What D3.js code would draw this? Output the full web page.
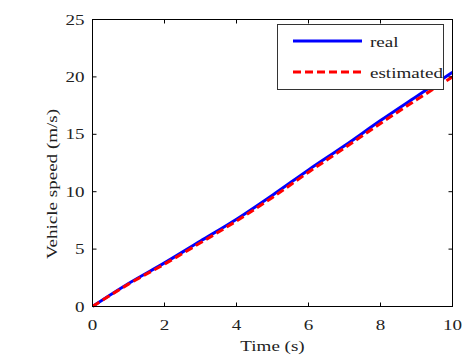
<!DOCTYPE html>
<html>
<head>
<meta charset="utf-8">
<script src="https://cdn.jsdelivr.net/npm/d3@7"></script>
<style>
body { margin: 0; background: #fff; }
</style>
</head>
<body>
<script>
// data
var time = [0, 1, 2, 3, 4, 5, 6, 7, 8, 9, 10];
var realSpeed = [0, 2.0, 3.8, 5.7, 7.6, 9.7, 11.9, 14.0, 16.2, 18.3, 20.4];
var estSpeed = [0, 1.95, 3.7, 5.55, 7.45, 9.5, 11.7, 13.8, 15.95, 18.0, 20.0];
var xTicks = [0, 2, 4, 6, 8, 10];
var yTicks = [0, 5, 10, 15, 20, 25];

var width = 465, height = 358;
var m = {left: 92.5, right: 12.5, top: 19.5, bottom: 51.5};
var FONT = "'Liberation Serif', 'Times New Roman', 'DejaVu Serif', serif";

var svg = d3.select("body").append("svg")
    .attr("width", width)
    .attr("height", height);

// the picture's fonts are wide; measure the installed font and stretch to fit
var probe = svg.append("text").attr("font-family", FONT).attr("font-size", 14).text("estimated");
var SX = 73 / probe.node().getComputedTextLength();
probe.remove();

var x = d3.scaleLinear().domain([0, 10]).range([m.left, width - m.right]);
var y = d3.scaleLinear().domain([0, 25]).range([height - m.bottom, m.top]);

function label(parent, px, py, str, anchor, rot) {
  return parent.append("text")
    .attr("transform", "translate(" + px + "," + py + ")" + (rot ? " rotate(" + rot + ")" : "") + " scale(" + SX + ",1)")
    .attr("text-anchor", anchor)
    .attr("font-family", FONT)
    .attr("font-size", 14)
    .attr("fill", "#222")
    .text(str);
}

// lines
var line = d3.line().curve(d3.curveMonotoneX);
var real = time.map((t, i) => [x(t), y(realSpeed[i])]);
var est = time.map((t, i) => [x(t), y(estSpeed[i])]);

svg.append("clipPath").attr("id", "c")
  .append("rect").attr("x", m.left).attr("y", m.top)
  .attr("width", x(10) - m.left + 1).attr("height", y(0) - m.top + 1);

var g = svg.append("g").attr("clip-path", "url(#c)");
g.append("path").attr("d", line(real))
  .attr("fill", "none").attr("stroke", "#0000ff").attr("stroke-width", 3);
g.append("path").attr("d", line(est))
  .attr("fill", "none").attr("stroke", "#ff0000").attr("stroke-width", 3)
  .attr("stroke-dasharray", "8,4");

// box + inward ticks (matlab style)
var frame = svg.append("g");
frame.append("rect")
  .attr("x", x(0)).attr("y", y(25))
  .attr("width", x(10) - x(0)).attr("height", y(0) - y(25))
  .attr("fill", "none").attr("stroke", "#000").attr("stroke-width", 1);

var tl = 4;
xTicks.forEach(function(t) {
  frame.append("line").attr("x1", x(t)).attr("x2", x(t))
    .attr("y1", y(0)).attr("y2", y(0) - tl).attr("stroke", "#000");
  frame.append("line").attr("x1", x(t)).attr("x2", x(t))
    .attr("y1", y(25)).attr("y2", y(25) + tl).attr("stroke", "#000");
  label(svg, x(t), y(0) + 23, t, "middle");
});
yTicks.forEach(function(v) {
  frame.append("line").attr("x1", x(0)).attr("x2", x(0) + tl)
    .attr("y1", y(v)).attr("y2", y(v)).attr("stroke", "#000");
  frame.append("line").attr("x1", x(10)).attr("x2", x(10) - tl)
    .attr("y1", y(v)).attr("y2", y(v)).attr("stroke", "#000");
  label(svg, x(0) - 8, y(v) + 5, v, "end");
});

// axis labels
label(svg, (x(0) + x(10)) / 2, 351, "Time (s)", "middle");
label(svg, 57, 184, "Vehicle speed (m/s)", "middle", -90);

// legend
var leg = svg.append("g");
leg.append("rect").attr("x", 277.5).attr("y", 24.5).attr("width", 166).attr("height", 65)
  .attr("fill", "#fff").attr("stroke", "#333").attr("stroke-width", 1);
leg.append("line").attr("x1", 293).attr("x2", 362).attr("y1", 41).attr("y2", 41)
  .attr("stroke", "#0000ff").attr("stroke-width", 3);
leg.append("line").attr("x1", 293).attr("x2", 362).attr("y1", 72).attr("y2", 72)
  .attr("stroke", "#ff0000").attr("stroke-width", 3).attr("stroke-dasharray", "8,4");
label(leg, 370, 47, "real", "start");
label(leg, 370, 78, "estimated", "start");
</script>
</body>
</html>
